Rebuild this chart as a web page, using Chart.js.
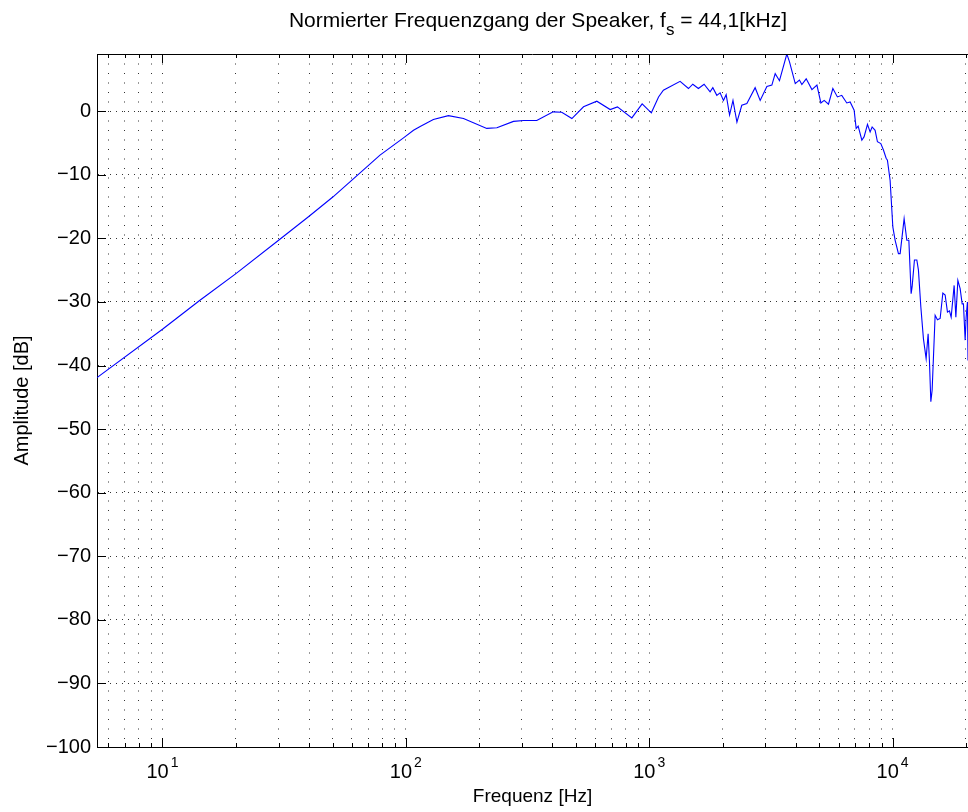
<!DOCTYPE html>
<html>
<head>
<meta charset="utf-8">
<script src="https://cdn.jsdelivr.net/npm/chart.js@4"></script>
<style>
  html, body { margin: 0; padding: 0; background: #fff; overflow: hidden; }
  #wrap { position: relative; width: 968px; height: 812px; }
  #myChart { position: absolute; left: 0; top: 0; }
  #title {
    position: absolute; top: 8px; left: 238px; width: 600px;
    text-align: center; white-space: nowrap;
    font: 21px "Liberation Sans", Arial, sans-serif; color: #000;
  }
  #title sub { font-size: 17px; vertical-align: -8px; line-height: 0; }
</style>
</head>
<body>
<div id="wrap">
  <canvas id="myChart" width="968" height="812"></canvas>
  <div id="title">Normierter Frequenzgang der Speaker, f<sub>s</sub> = 44,1[kHz]</div>
</div>
<script>
const freqHz = [5.383, 10, 14.3, 20.1, 30, 39.8, 50.1, 61, 78.3, 97.8,
  107.5, 114.5, 129.7, 149.6, 172.5, 215, 236.6, 276.8, 305, 345,
  403, 437, 481, 537, 609, 691, 740, 848, 935, 1020,
  1092, 1143, 1339, 1449, 1510, 1592, 1680, 1778, 1825, 1895,
  1955, 2018, 2070, 2138, 2208, 2292, 2400, 2518, 2723, 2856,
  3043, 3190, 3292, 3428, 3675, 3767, 3980, 4140, 4237, 4414,
  4660, 4886, 5072, 5233, 5450, 5680, 5930, 6180, 6480, 6690,
  6947, 7082, 7217, 7473, 7637, 7882, 8081, 8236, 8472, 8660,
  8942, 9166, 9403, 9519, 9765, 10018, 10240, 10563, 10735, 11148,
  11437, 11658, 11912, 12025, 12290, 12571, 12764, 13058, 13383, 13728,
  13990, 14162, 14353, 14530, 14948, 15278, 15674, 16080, 16433, 16797,
  17117, 17395, 17895, 18186, 18533, 18939, 19304, 19541, 19858, 20046,
  20292, 20400];

const amplitudeDb = [-41.9, -34.3, -29.7, -25.5, -20.3, -16.6, -13.5, -10.6, -6.9, -4.2,
  -3.0, -2.4, -1.3, -0.7, -1.15, -2.7, -2.6, -1.6, -1.47, -1.47,
  -0.1, -0.15, -1.15, 0.7, 1.57, 0.26, 0.68, -1.05, 1.15, -0.25,
  2.25, 3.3, 4.7, 3.57, 4.25, 3.57, 4.25, 3.04, 3.7, 2.5,
  2.9, 1.7, 2.6, -0.6, 1.7, -1.7, 0.94, 1.2, 3.7, 1.7,
  3.9, 4.1, 5.9, 4.8, 9.0, 7.8, 4.35, 4.9, 4.2, 5.1,
  3.4, 4.1, 1.3, 1.7, 1.1, 3.57, 2.25, 2.5, 1.3, 1.46,
  0.16, -2.7, -2.36, -4.56, -4.0, -2.05, -3.25, -2.47, -3.0, -4.8,
  -5.1, -6.1, -7.4, -7.7, -10.9, -18.2, -20.3, -22.4, -22.4, -16.9,
  -20.3, -20.3, -28.7, -27.6, -23.4, -23.4, -25.0, -30.8, -35.8, -38.9,
  -35.0, -39.2, -45.7, -43.9, -32.1, -32.8, -32.6, -28.6, -28.9, -31.6,
  -31.4, -32.4, -27.4, -32.4, -26.6, -27.9, -30.3, -30.3, -36.0, -32.4,
  -30.0, -39.2];

// Achsen
const xMin = 5.383;   // fs / 8192
const xMax = 20400;
const yMin = -100;
const yMax = 9;
const xDecades = [1, 10, 100, 1000, 10000];
const xMultipliers = [1, 2, 3, 4, 5, 6, 7, 8, 9];
const xLabelValues = [10, 100, 1000, 10000];
const xLabelExponents = ['1', '2', '3', '4'];
const yTickValues = [-100, -90, -80, -70, -60, -50, -40, -30, -20, -10, 0];

let xTickValues = [];
xDecades.forEach(d => xMultipliers.forEach(m => {
    let v = d * m;
    if (v > xMin && v < xMax) xTickValues.push(v);
}));

const font = '"Liberation Sans", Arial, sans-serif';

// Rahmen oben + Ticks nach innen (wie matlab)
const innerTicks = {
    id: 'innerTicks',
    afterDatasetsDraw(chart){
        const {ctx, chartArea: a, scales: {x, y}} = chart;
        ctx.save();
        ctx.strokeStyle = '#000';
        ctx.lineWidth = 1;
        ctx.beginPath();
        ctx.moveTo(a.left, a.top + 0.5);
        ctx.lineTo(a.right, a.top + 0.5);
        x.ticks.forEach(t => {
            let px = Math.round(x.getPixelForValue(t.value)) + 0.5;
            let len = xLabelValues.includes(t.value) ? 9 : 4;
            ctx.moveTo(px, a.bottom);
            ctx.lineTo(px, a.bottom - len);
            ctx.moveTo(px, a.top);
            ctx.lineTo(px, a.top + len);
        });
        y.ticks.forEach(t => {
            let py = Math.round(y.getPixelForValue(t.value)) + 0.5;
            ctx.moveTo(a.left, py);
            ctx.lineTo(a.left + 9, py);
        });
        ctx.stroke();
        ctx.restore();
    }
};

// x Beschriftung 10^n mit hochgestelltem Exponent
const decadeLabels = {
    id: 'decadeLabels',
    afterDraw(chart){
        const {ctx, chartArea: a, scales: {x}} = chart;
        ctx.save();
        ctx.fillStyle = '#000';
        ctx.textBaseline = 'alphabetic';
        ctx.textAlign = 'left';
        xLabelValues.forEach((v, i) => {
            let px = x.getPixelForValue(v);
            ctx.font = '20px ' + font;
            let wb = ctx.measureText('10').width;
            ctx.font = '14px ' + font;
            let we = ctx.measureText(xLabelExponents[i]).width;
            let start = px - (wb + 2 + we) / 2;
            ctx.font = '20px ' + font;
            ctx.fillText('10', start, a.bottom + 31);
            ctx.font = '14px ' + font;
            ctx.fillText(xLabelExponents[i], start + wb + 2, a.bottom + 20);
        });
        ctx.restore();
    }
};

function chart(){
    const ctx = document.getElementById('myChart').getContext('2d');

    const data = {
        datasets: [{
            data: freqHz.map((f, i) => ({x: f, y: amplitudeDb[i]})),
            borderColor: '#0000ff',
            borderWidth: 1.1,
            pointRadius: 0,
            tension: 0,
            fill: false,
            clip: true
        }]
    };

    const config = {
        type: 'line',
        data: data,
        plugins: [innerTicks, decadeLabels],
        options: {
            responsive: false,
            animation: false,
            layout: { padding: { top: 54, left: 0, right: 0, bottom: 0 } },
            plugins: {
                legend: { display: false },
                tooltip: { enabled: false },
                title: { display: false }
            },
            scales: {
                x: {
                    type: 'logarithmic',
                    min: xMin,
                    max: xMax,
                    afterBuildTicks: s => { s.ticks = xTickValues.map(v => ({value: v})); },
                    afterFit: s => { s.height = 65; s.paddingLeft = 0; s.paddingRight = 0; },
                    grid: { color: 'rgba(0,0,0,0.8)', lineWidth: 1, drawTicks: false },
                    border: { display: true, color: '#000', width: 1, dash: [1, 8.5] },
                    ticks: { display: false, autoSkip: false },
                    title: {
                        display: true,
                        text: 'Frequenz [Hz]',
                        color: '#000',
                        font: { family: font, size: 19 },
                        padding: { top: 0, bottom: 4 }
                    }
                },
                y: {
                    min: yMin,
                    max: yMax,
                    afterBuildTicks: s => { s.ticks = yTickValues.map(v => ({value: v})); },
                    afterFit: s => { s.width = 97; s.paddingTop = 0; s.paddingBottom = 0; },
                    grid: { color: 'rgba(0,0,0,0.8)', lineWidth: 1, drawTicks: false },
                    border: { display: true, color: '#000', width: 1, dash: [1, 5] },
                    ticks: {
                        padding: 6,
                        color: '#000',
                        font: { family: font, size: 20 },
                        callback: v => v < 0 ? '\u2212' + Math.abs(v) : String(v)
                    },
                    title: {
                        display: true,
                        text: 'Amplitude [dB]',
                        color: '#000',
                        font: { family: font, size: 20 },
                        padding: { top: 10, bottom: 0 }
                    }
                }
            }
        }
    };

    return new Chart(ctx, config);
}

chart();
</script>
</body>
</html>
